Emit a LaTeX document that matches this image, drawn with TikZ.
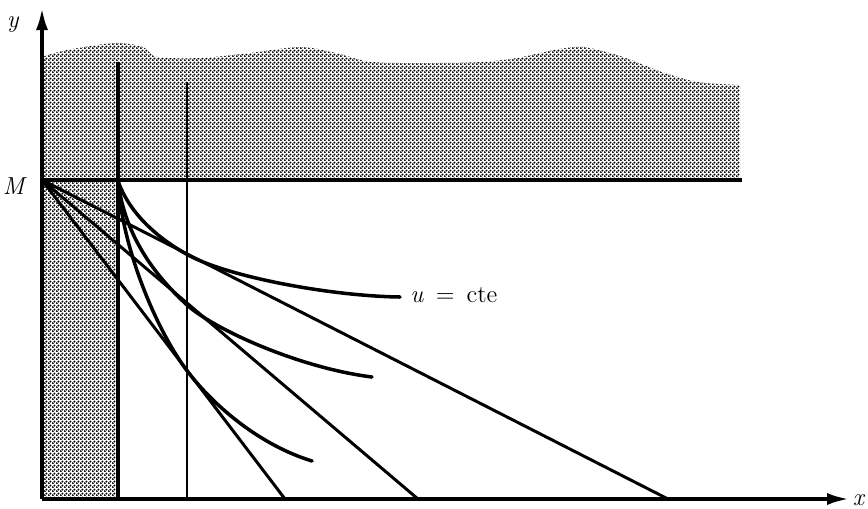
\documentclass[tikz,border=0pt]{standalone}
\usetikzlibrary{arrows.meta,patterns}

% halftone screen for the shaded zones
\pgfdeclarepatternformonly{halftone}{\pgfpointorigin}{\pgfqpoint{2.3pt}{2.3pt}}{\pgfqpoint{2.3pt}{2.3pt}}{%
  \pgfpathcircle{\pgfqpoint{0.575pt}{0.575pt}}{0.76pt}%
  \pgfpathcircle{\pgfqpoint{1.725pt}{1.725pt}}{0.76pt}%
  \pgfusepath{fill}}

\begin{document}
\begin{tikzpicture}[
    x=0.02cm, y=-0.02cm,
    axis/.style={line width=2.3pt, -{Latex[length=4.6mm, width=2.4mm]}},
    guide/.style={line width=1.9pt},
    budget/.style={line width=1.7pt},
    indiff/.style={line width=2pt, line cap=round},
    zone/.style={pattern=halftone, pattern color=black},
    lbl/.style={font=\fontsize{14}{16}\selectfont, inner sep=0pt},
  ]
  \useasboundingbox (0,0) rectangle (868,508);

  \coordinate (O) at (42,499);
  \coordinate (ytip) at (42,7);
  \coordinate (xtip) at (850,499);
  \coordinate (M) at (42,180);
  \coordinate (K) at (118,181);
  \coordinate (hend) at (742,180);
  \coordinate (v1top) at (118,62);
  \coordinate (v1bot) at (118,499);
  \coordinate (v2top) at (187,82);
  \coordinate (v2bot) at (187,499);
  \coordinate (b1) at (285,499);
  \coordinate (b2) at (418,499);
  \coordinate (b3) at (668,499);
  % tangency points on the vertical x = 187
  \coordinate (t1) at (190,256);
  \coordinate (t2) at (187,305);
  \coordinate (t3) at (188,372);

  % shaded zones
  \fill[zone] (M) -- plot[smooth] coordinates {(42,57) (67,50) (115,43) (143,47) (157,57)
      (200,58) (250,53) (300,47) (336,53) (372,62) (434,63) (481,62) (517,58) (554,50)
      (583,47) (620,56) (662,72) (698,82) (740,85)} -- (740,180) -- cycle;
  \fill[zone] (M) rectangle (v1bot);

  \draw[guide] (M) -- (hend);
  \draw[guide] (v1top) -- (v1bot);
  \draw[budget] (v2top) -- (v2bot);

  \draw[budget] (M) -- (b1);
  \draw[budget] (M) -- (b2);
  \draw[budget] (M) -- (b3);

  \draw[indiff] (K) .. controls (130,215) and (160,240) .. (t1)
                    .. controls (230,277) and (330,296) .. (400,297);
  \draw[indiff] (K) .. controls (125,240) and (160,280) .. (t2)
                    .. controls (215,330) and (300,368) .. (372,377);
  \draw[indiff] (K) .. controls (122,250) and (158,333) .. (t3)
                    .. controls (215,407) and (260,445) .. (312,461);

  \draw[axis] (O) -- (ytip);
  \draw[axis] (O) -- (xtip);

  \node[lbl] (ylab) at (13,25) {\textit{y}};
  \node[lbl] (Mlab) at (15,186) {\textit{M}};
  \node[lbl] (xlab) at (859,500) {\textit{x}};
  \node[lbl, anchor=base west] (ucte) at (410,302) {\textit{u}\hspace{2.4mm}=\hspace{2.4mm}cte};
\end{tikzpicture}
\end{document}
